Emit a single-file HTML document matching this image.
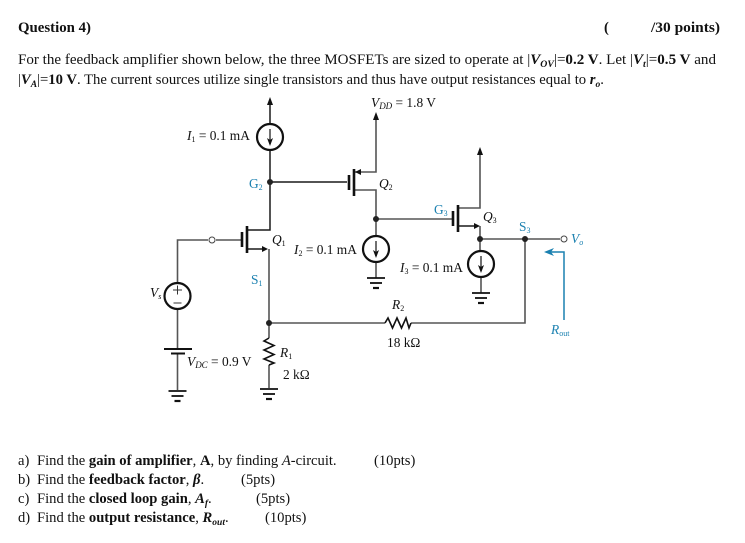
<!DOCTYPE html>
<html><head><meta charset="utf-8"><style>
html,body{margin:0;padding:0;background:#fff}
svg{display:block;font-family:"Liberation Serif",serif;fill:#111;filter:blur(0.3px)}
.w{stroke:#555;stroke-width:1.6;fill:none}
.k{stroke:#1a1a1a;stroke-width:1.5;fill:none}
.p{stroke:#111;stroke-width:2.6;fill:none}
.c{stroke:#111;stroke-width:2.2;fill:#fff}
.b{fill:#1a80b0}
.t{font-size:14.6px}
.l{font-size:13.4px}
</style></head><body>
<svg width="745" height="543" viewBox="0 0 745 543" xmlns="http://www.w3.org/2000/svg">
<defs>
<g id="gnd"><path d="M-9 0H9" stroke="#111" stroke-width="1.8"/><path d="M-6 5H6" stroke="#111" stroke-width="1.8"/><path d="M-3 10H3" stroke="#111" stroke-width="2.2"/></g>
<g id="src"><circle r="13" class="c"/><path d="M0 -8V7" stroke="#222" stroke-width="1.3"/><path d="M-3 1L0 9L3 1L0 3Z" fill="#111"/></g>
</defs>

<!-- text -->
<text x="18" y="32" font-size="14.6" font-weight="bold" textLength="73" lengthAdjust="spacingAndGlyphs">Question 4)</text>
<text x="604" y="32" font-size="14.6" font-weight="bold">(</text>
<text x="651" y="32" font-size="14.6" font-weight="bold" textLength="69" lengthAdjust="spacingAndGlyphs">/30 points)</text>
<text x="18" y="64" class="t" textLength="698" lengthAdjust="spacingAndGlyphs">For the feedback amplifier shown below, the three MOSFETs are sized to operate at |<tspan font-weight="bold" font-style="italic">V</tspan><tspan font-weight="bold" font-style="italic" font-size="9.5" dy="3">OV</tspan><tspan dy="-3">|=</tspan><tspan font-weight="bold">0.2 V</tspan>. Let |<tspan font-weight="bold" font-style="italic">V</tspan><tspan font-weight="bold" font-style="italic" font-size="9.5" dy="3">t</tspan><tspan dy="-3">|=</tspan><tspan font-weight="bold">0.5 V</tspan> and</text>
<text x="18" y="84" class="t" textLength="586" lengthAdjust="spacingAndGlyphs">|<tspan font-weight="bold" font-style="italic">V</tspan><tspan font-weight="bold" font-style="italic" font-size="9.5" dy="3">A</tspan><tspan dy="-3">|=</tspan><tspan font-weight="bold">10 V</tspan>. The current sources utilize single transistors and thus have output resistances equal to <tspan font-weight="bold" font-style="italic">r</tspan><tspan font-weight="bold" font-style="italic" font-size="9.5" dy="3">o</tspan><tspan dy="-3">.</tspan></text>

<text x="18" y="465" class="t">a)</text>
<text x="37" y="465" class="t">Find the <tspan font-weight="bold">gain of amplifier</tspan>, <tspan font-weight="bold">A</tspan>, by finding <tspan font-style="italic">A</tspan>-circuit.</text>
<text x="374" y="465" class="t">(10pts)</text>
<text x="18" y="484" class="t">b)</text>
<text x="37" y="484" class="t">Find the <tspan font-weight="bold">feedback factor</tspan>, <tspan font-weight="bold" font-style="italic">β</tspan>.</text>
<text x="241" y="484" class="t">(5pts)</text>
<text x="18" y="503" class="t">c)</text>
<text x="37" y="503" class="t">Find the <tspan font-weight="bold">closed loop gain</tspan>, <tspan font-weight="bold" font-style="italic">A</tspan><tspan font-weight="bold" font-style="italic" font-size="9.500" dy="3">f</tspan><tspan dy="-3">.</tspan></text>
<text x="256" y="503" class="t">(5pts)</text>
<text x="18" y="522" class="t">d)</text>
<text x="37" y="522" class="t">Find the <tspan font-weight="bold">output resistance</tspan>, <tspan font-weight="bold" font-style="italic">R</tspan><tspan font-weight="bold" font-style="italic" font-size="9.500" dy="3">out</tspan><tspan dy="-3">.</tspan></text>
<text x="265" y="522" class="t">(10pts)</text>

<!-- wires -->
<path class="k" d="M270 102V124M270 150V230H247"/>
<path class="k" d="M270 182H347"/>
<path class="w" d="M376 118V172H354M354 190H376V236"/>
<path class="w" d="M376 219H452"/>
<path class="w" d="M376 262V278"/>
<path class="w" d="M177.500 283V240H208M216 240H242"/>
<path class="w" d="M177.500 309V349M177.500 353V390"/>
<path class="k" d="M247 249H264"/>
<path class="w" d="M269 249V338M269 365V388"/>
<path class="w" d="M269 323H385M411 323H525V239"/>
<path class="w" d="M458 208H480V152"/>
<path class="k" d="M458 226H476"/>
<path class="w" d="M480 226V251M481 277V293"/>
<path class="w" d="M480 239H560"/>

<!-- arrowheads -->
<path d="M270 97L267 105H273Z" fill="#111"/>
<path d="M376 112L373 120H379Z" fill="#111"/>
<path d="M480 147L477 155H483Z" fill="#111"/>
<path d="M268 249L262 246V252Z" fill="#111"/>
<path d="M480 226L474 223V229Z" fill="#111"/>
<path d="M355 172L361 169V175Z" fill="#111"/>

<!-- mosfet plates -->
<path class="p" d="M247 226V253M242 232V247"/>
<path class="p" d="M354 169V196M349 175V190"/>
<path class="p" d="M458 205V232M453 211V226"/>

<!-- sources -->
<use href="#src" x="270" y="137"/>
<use href="#src" x="376" y="249"/>
<use href="#src" x="481" y="264"/>
<circle cx="177.500" cy="296" r="13" class="c"/>
<path d="M173 290H182M177.500 285.500V294.500M173.500 303H181.500" stroke="#333" stroke-width="1" fill="none"/>

<!-- battery -->
<path d="M164 349H192" stroke="#111" stroke-width="2"/>
<path d="M171 353.500H185" stroke="#111" stroke-width="2"/>

<!-- grounds -->
<use href="#gnd" x="177.500" y="391"/>
<use href="#gnd" x="269" y="389"/>
<use href="#gnd" x="376" y="278"/>
<use href="#gnd" x="481" y="293"/>

<!-- resistors -->
<path d="M269 338L264 341L274 345.500L264 350L274 354.500L264 359L274 363L269 365" stroke="#111" stroke-width="1.600" fill="none"/>
<path d="M385 323L388 318L392.500 328L397 318L401.500 328L406 318L409 328L411 323" stroke="#111" stroke-width="1.600" fill="none"/>

<!-- nodes -->
<circle cx="270" cy="182" r="3" fill="#222"/>
<circle cx="376" cy="219" r="3" fill="#222"/>
<circle cx="269" cy="323" r="3" fill="#222"/>
<circle cx="480" cy="239" r="3" fill="#222"/>
<circle cx="525" cy="239" r="3" fill="#222"/>
<circle cx="212" cy="240" r="3" fill="#fff" stroke="#444"/>
<circle cx="564" cy="239" r="3" fill="#fff" stroke="#444"/>

<!-- Rout arrow -->
<path d="M564 320V252H547" stroke="#1a80b0" stroke-width="1.500" fill="none"/>
<path d="M544 252L554 248L551 252L554 256Z" fill="#1a80b0"/>

<!-- circuit labels -->
<text x="371" y="107" class="l"><tspan font-style="italic">V</tspan><tspan font-style="italic" font-size="9" dy="2">DD</tspan><tspan dy="-2"> = 1.8 V</tspan></text>
<text x="187" y="140" class="l"><tspan font-style="italic">I</tspan><tspan font-size="8" dy="2">1</tspan><tspan dy="-2"> = 0.1 mA</tspan></text>
<text x="294" y="254" class="l"><tspan font-style="italic">I</tspan><tspan font-size="8" dy="2">2</tspan><tspan dy="-2"> = 0.1 mA</tspan></text>
<text x="400" y="272" class="l"><tspan font-style="italic">I</tspan><tspan font-size="8" dy="2">3</tspan><tspan dy="-2"> = 0.1 mA</tspan></text>
<text x="249" y="188" class="l b">G<tspan font-size="8" dy="2">2</tspan></text>
<text x="434" y="214" class="l b">G<tspan font-size="8" dy="2">3</tspan></text>
<text x="251" y="284" class="l b">S<tspan font-size="8" dy="2">1</tspan></text>
<text x="519" y="231" class="l b">S<tspan font-size="8" dy="2">3</tspan></text>
<text x="272" y="244" class="l" font-style="italic">Q<tspan font-size="8" dy="2" font-style="normal">1</tspan></text>
<text x="379" y="188" class="l" font-style="italic">Q<tspan font-size="8" dy="2" font-style="normal">2</tspan></text>
<text x="483" y="221" class="l" font-style="italic">Q<tspan font-size="8" dy="2" font-style="normal">3</tspan></text>
<text x="150" y="297" class="l" font-style="italic">V<tspan font-size="8" dy="2">s</tspan></text>
<text x="187" y="366" class="l"><tspan font-style="italic">V</tspan><tspan font-style="italic" font-size="9" dy="2">DC</tspan><tspan dy="-2"> = 0.9 V</tspan></text>
<text x="280" y="357" class="l" font-style="italic">R<tspan font-size="8" dy="2" font-style="normal">1</tspan></text>
<text x="283" y="379" class="l">2 kΩ</text>
<text x="392" y="309" class="l" font-style="italic">R<tspan font-size="8" dy="2" font-style="normal">2</tspan></text>
<text x="387" y="347" class="l">18 kΩ</text>
<text x="571" y="243" class="l b" font-style="italic">V<tspan font-size="8" dy="2">o</tspan></text>
<text x="551" y="334" class="l b" font-style="italic">R<tspan font-size="8" dy="2" font-style="normal">out</tspan></text>
</svg>
</body></html>
